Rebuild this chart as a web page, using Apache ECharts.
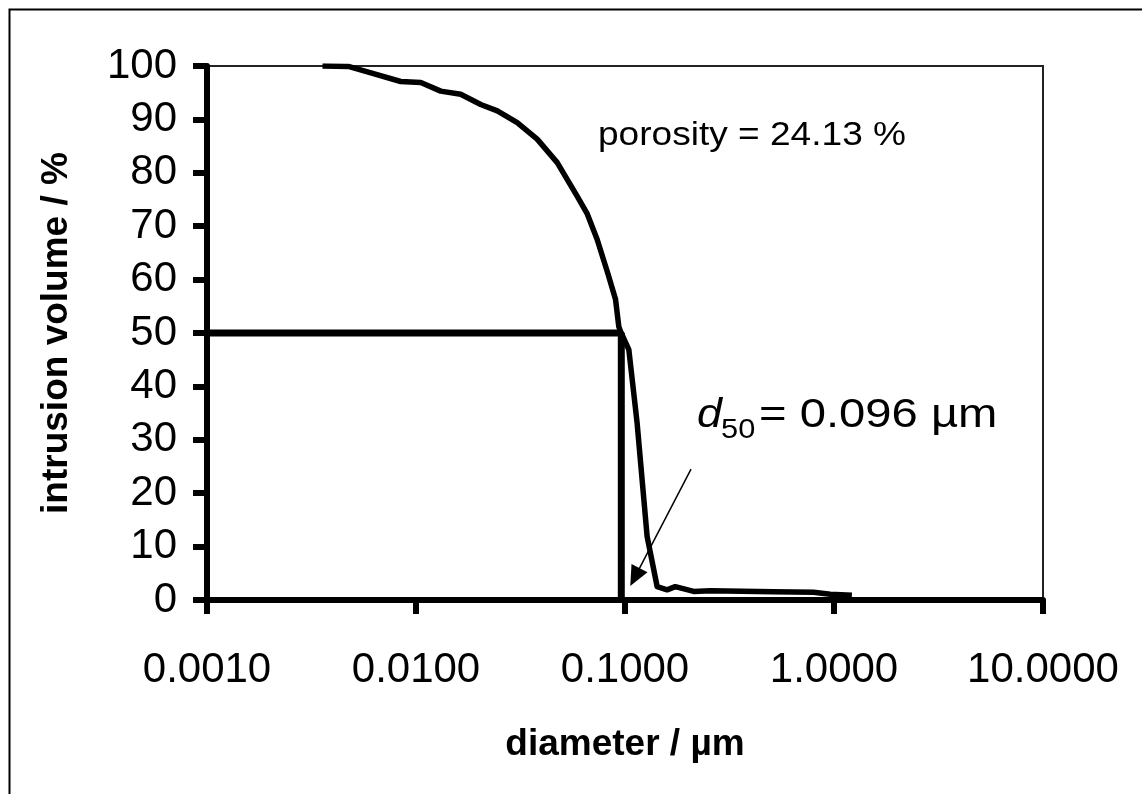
<!DOCTYPE html>
<html>
<head>
<meta charset="utf-8">
<script src="https://cdn.jsdelivr.net/npm/echarts@6/dist/echarts.min.js"></script>
<style>
html,body{margin:0;padding:0;background:#fff;}
#c{width:1142px;height:794px;}
</style>
</head>
<body>
<div id="c"></div>
<script>
// intrusion curve (diameter in µm, cumulative intrusion volume in %)
const diameter = [0.00357, 0.00479, 0.00597, 0.00845, 0.01054, 0.01313, 0.01636, 0.0204, 0.0245, 0.0305, 0.0380, 0.0474, 0.0591, 0.0660, 0.0736, 0.0830, 0.0901, 0.0934, 0.0952, 0.1043, 0.1143, 0.1276, 0.1425, 0.159, 0.174, 0.213, 0.256, 0.514, 0.798, 0.960, 1.218];
const volume   = [100,     99.9,    98.8,    97.1,    96.9,    95.3,    94.7,    92.8,   91.6,   89.4,   86.3,   81.9,   75.6,   72.3,   67.5,   61.0,   56.3,   51.2,   50.3,   46.9,   33.1,   11.9,   2.5,    1.9,   2.5,   1.6,   1.75,  1.56,  1.44,  1.06,  0.87];
// d50 guide lines
const d50X = [0.001, 0.096, 0.096];
const d50Y = [50, 50, 0];
// arrow (from, to) in data coordinates
const arrowFrom = [0.207, 24.5];
const arrowTo = [0.1115, 4.3];
// axis settings
const xMin = 0.001, xMax = 10;
const yMin = 0, yMax = 100, yStep = 10;
const porosityText = 'porosity = 24.13 %';
const d50Value = '= 0.096 µm';

const FONT = '"Liberation Sans", Arial, sans-serif';
const chart = echarts.init(document.getElementById('c'), null, {renderer: 'canvas'});

const option = {
  backgroundColor: '#fff',
  animation: false,
  grid: {left: 207, right: 99, top: 66, bottom: 194, show: true, borderColor: '#222', borderWidth: 2, backgroundColor: 'transparent'},
  xAxis: {
    type: 'log', logBase: 10, min: xMin, max: xMax,
    name: 'diameter / µm', nameLocation: 'middle', nameGap: 126,
    nameTextStyle: {fontFamily: FONT, fontSize: 37, fontWeight: 'bold', color: '#000'},
    axisLine: {show: true, lineStyle: {color: '#000', width: 6}},
    axisTick: {show: true, inside: false, length: 14, lineStyle: {color: '#000', width: 6}},
    minorTick: {show: false},
    splitLine: {show: false},
    axisLabel: {fontFamily: FONT, fontSize: 42, color: '#000', margin: 49,
      formatter: v => Number(v).toFixed(4)}
  },
  yAxis: {
    type: 'value', min: yMin, max: yMax, interval: yStep,
    name: 'intrusion volume / %', nameLocation: 'middle', nameGap: 132, nameRotate: 90,
    nameTextStyle: {fontFamily: FONT, fontSize: 37, fontWeight: 'bold', color: '#000'},
    axisLine: {show: true, lineStyle: {color: '#000', width: 6}},
    axisTick: {show: true, inside: false, length: 14, lineStyle: {color: '#000', width: 6}},
    splitLine: {show: false},
    axisLabel: {fontFamily: FONT, fontSize: 42, color: '#000', margin: 30}
  },
  series: [
    {
      type: 'line', name: 'curve',
      data: diameter.map((d, i) => [d, volume[i]]),
      showSymbol: false, symbol: 'none',
      lineStyle: {color: '#000', width: 5.5, join: 'round'},
      z: 3
    },
    {
      type: 'line', name: 'd50',
      data: d50X.map((d, i) => [d, d50Y[i]]),
      showSymbol: false, symbol: 'none',
      lineStyle: {color: '#000', width: 7},
      z: 4,
      markLine: {
        silent: true, animation: false,
        symbol: ['none', 'triangle'], symbolSize: [18, 20],
        label: {show: false},
        lineStyle: {color: '#000', width: 1.5, type: 'solid'},
        data: [[{coord: arrowFrom}, {coord: arrowTo}]]
      }
    }
  ],
  graphic: [
    {type: 'rect', left: 7, top: 7, shape: {width: 1200, height: 900}, style: {fill: 'none', stroke: '#000', lineWidth: 2}, silent: true, z: -1},
    {type: 'text', x: 598, y: 119, scaleX: 1.09, style: {text: porosityText, fontFamily: FONT, fontSize: 34, fill: '#000'}},
    {type: 'text', x: 697, y: 396, scaleX: 1.12, style: {text: 'd', fontFamily: FONT, fontSize: 40, fontStyle: 'italic', fill: '#000'}},
    {type: 'text', x: 721, y: 416, scaleX: 1.1, style: {text: '50', fontFamily: FONT, fontSize: 28, fill: '#000'}},
    {type: 'text', x: 759, y: 396, scaleX: 1.18, style: {text: d50Value, fontFamily: FONT, fontSize: 40, fill: '#000'}}
  ]
};
chart.setOption(option);
</script>
</body>
</html>
